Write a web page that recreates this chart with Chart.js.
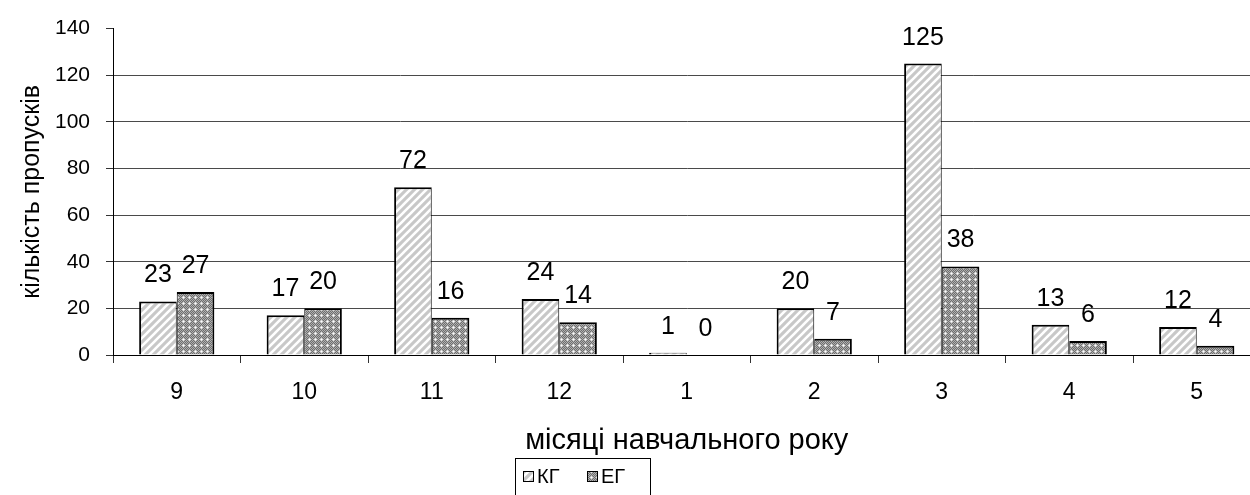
<!DOCTYPE html>
<html>
<head>
<meta charset="utf-8">
<script src="https://cdn.jsdelivr.net/npm/chart.js@4.4.1/dist/chart.umd.min.js"></script>
<style>
  html, body { margin: 0; padding: 0; background: #fff; overflow: hidden; }
  #wrap { width: 1250px; height: 495px; overflow: hidden; }
</style>
</head>
<body>
<div id="wrap"><canvas id="chartBar" width="1261" height="495"></canvas></div>
<script>
// months of the school year
const months = ['9', '10', '11', '12', '1', '2', '3', '4', '5'];
// absences, control group / experimental group
const kgValues = [23, 17, 72, 24, 1, 20, 125, 13, 12];
const egValues = [27, 20, 16, 14, 0, 7, 38, 6, 4];
const seriesNames = ['КГ', 'ЕГ'];
const yTicks = [0, 20, 40, 60, 80, 100, 120, 140];

const FONT = '"Liberation Sans", Arial, sans-serif';

function stripePattern() {
    const c = document.createElement('canvas');
    c.width = 8; c.height = 8;
    const g = c.getContext('2d');
    g.fillStyle = '#c8c8c8';
    g.fillRect(0, 0, 8, 8);
    g.strokeStyle = '#ffffff';
    g.lineWidth = 2.6;
    [[-8, 8, 8, -8], [0, 8, 8, 0], [0, 16, 16, 0]].forEach(l => {
        g.beginPath(); g.moveTo(l[0], l[1]); g.lineTo(l[2], l[3]); g.stroke();
    });
    return g.createPattern(c, 'repeat');
}

function dotPattern() {
    const c = document.createElement('canvas');
    c.width = 6; c.height = 6;
    const g = c.getContext('2d');
    for (let y = 0; y < 6; y++) {
        for (let x = 0; x < 6; x++) {
            g.fillStyle = (x + y) % 2 ? '#6e6e6e' : '#b0b0b0';
            g.fillRect(x, y, 1, 1);
        }
    }
    g.fillStyle = '#ffffff';
    g.fillRect(3, 3, 1, 1);
    g.fillStyle = '#e0e0e0';
    g.fillRect(2, 3, 1, 1); g.fillRect(4, 3, 1, 1);
    g.fillRect(3, 2, 1, 1); g.fillRect(3, 4, 1, 1);
    return g.createPattern(c, 'repeat');
}

const kgFill = stripePattern();
const egFill = dotPattern();

// value labels above bars
const valueLabels = {
    id: 'valueLabels',
    afterDatasetsDraw(chart) {
        const ctx = chart.ctx;
        ctx.save();
        ctx.font = '25px ' + FONT;
        ctx.fillStyle = '#000';
        ctx.textAlign = 'center';
        ctx.textBaseline = 'alphabetic';
        chart.data.datasets.forEach((ds, i) => {
            chart.getDatasetMeta(i).data.forEach((bar, j) => {
                ctx.fillText(String(ds.data[j]), bar.x, bar.y - 19);
            });
        });
        ctx.restore();
    }
};

// boxed legend under the axis title
const boxLegend = {
    id: 'boxLegend',
    afterDraw(chart) {
        const ctx = chart.ctx;
        ctx.save();
        ctx.strokeStyle = '#000';
        ctx.lineWidth = 1;
        ctx.strokeRect(515.5, 458.5, 135, 45);
        ctx.font = '20px ' + FONT;
        ctx.textBaseline = 'middle';
        let x = 523;
        chart.data.datasets.forEach(ds => {
            ctx.fillStyle = ds.backgroundColor;
            ctx.fillRect(x, 471, 11, 11);
            ctx.strokeRect(x + 0.5, 471.5, 10, 10);
            ctx.fillStyle = '#000';
            ctx.fillText(ds.label, x + 14, 477);
            x += 64;
        });
        ctx.restore();
    }
};

const ctx = document.getElementById('chartBar').getContext('2d');
const chart = new Chart(ctx, {
    type: 'bar',
    data: {
        labels: months,
        datasets: [{
            label: seriesNames[0],
            data: kgValues,
            backgroundColor: kgFill,
            borderColor: '#000',
            borderWidth: { top: 2, left: 2, right: 1, bottom: 0 },
            borderSkipped: false
        }, {
            label: seriesNames[1],
            data: egValues,
            backgroundColor: egFill,
            borderColor: '#000',
            borderWidth: { top: 2, left: 1, right: 2, bottom: 0 },
            borderSkipped: false
        }]
    },
    options: {
        responsive: false,
        animation: false,
        categoryPercentage: 0.59,
        barPercentage: 1,
        layout: { padding: { top: 25, right: 0.5, left: 0, bottom: 0 } },
        plugins: {
            legend: { display: false },
            tooltip: { enabled: false }
        },
        scales: {
            x: {
                offset: true,
                grid: { offset: true, drawOnChartArea: false, drawTicks: true, tickLength: 8, color: '#333' },
                border: { color: '#000', width: 1 },
                ticks: { color: '#000', font: { family: FONT, size: 23 }, padding: 16, maxRotation: 0 },
                title: {
                    display: true,
                    text: 'місяці навчального року',
                    color: '#000',
                    font: { family: FONT, size: 29 },
                    padding: { top: 0, bottom: 37 }
                },
                afterFit(scale) { scale.height = 140; }
            },
            y: {
                min: 0,
                max: 140,
                afterBuildTicks(scale) { scale.ticks = yTicks.map(v => ({ value: v })); },
                grid: {
                    color: c => (c.tick && c.tick.value === 140) ? 'rgba(0,0,0,0)' : '#4a4a4a',
                    tickColor: '#333',
                    tickLength: 7,
                    drawTicks: true
                },
                border: { color: '#000', width: 1 },
                ticks: { color: '#000', font: { family: FONT, size: 21 }, padding: 16 },
                title: {
                    display: true,
                    text: 'кількість пропусків',
                    color: '#000',
                    font: { family: FONT, size: 25 },
                    padding: { top: 17, bottom: 0 }
                },
                afterFit(scale) { scale.width = 113; }
            }
        }
    },
    plugins: [valueLabels, boxLegend]
});
</script>
</body>
</html>
